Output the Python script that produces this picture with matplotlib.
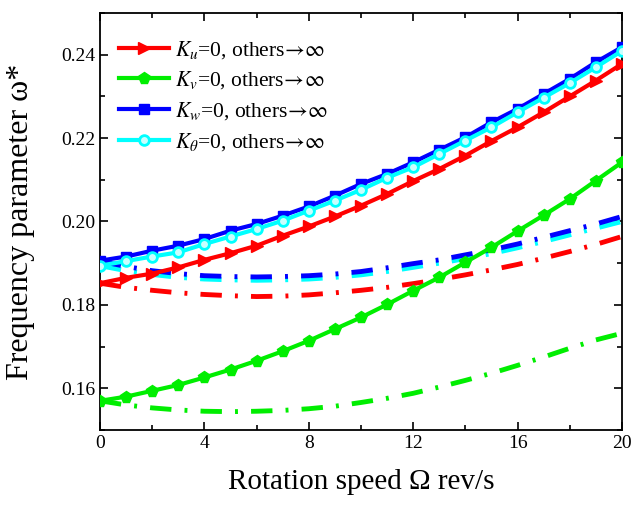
import matplotlib
matplotlib.use("Agg")
import matplotlib.pyplot as plt
from matplotlib.ticker import MultipleLocator

plt.rcParams['font.family'] = ['Liberation Serif', 'DejaVu Serif']
plt.rcParams['mathtext.fontset'] = 'stix'

omega = list(range(0, 21))

# solid curves (with markers)
ku_solid = [0.1852, 0.1865, 0.1875, 0.1890, 0.1908, 0.1924, 0.1942, 0.1966, 0.1988, 0.2012, 0.2038,
            0.2066, 0.2097, 0.2126, 0.2158, 0.2193, 0.2226, 0.2262, 0.2300, 0.2338, 0.2378]
kv_solid = [0.1570, 0.1580, 0.1594, 0.1608, 0.1626, 0.1645, 0.1666, 0.1689, 0.1714, 0.1742, 0.1770,
            0.1801, 0.1834, 0.1866, 0.1902, 0.1938, 0.1977, 0.2015, 0.2054, 0.2098, 0.2142]
kw_solid = [0.1906, 0.1916, 0.1930, 0.1942, 0.1958, 0.1978, 0.1994, 0.2014, 0.2036, 0.2062, 0.2090,
            0.2114, 0.2142, 0.2172, 0.2202, 0.2238, 0.2270, 0.2306, 0.2342, 0.2382, 0.2418]
kt_solid = [0.1894, 0.1905, 0.1916, 0.1926, 0.1946, 0.1964, 0.1982, 0.2002, 0.2026, 0.2050, 0.2076,
            0.2105, 0.2130, 0.2162, 0.2194, 0.2226, 0.2262, 0.2297, 0.2332, 0.2370, 0.2409]

# dash-dot curves
ku_dash = [0.1852, 0.1842, 0.1835, 0.1829, 0.1825, 0.1822, 0.1820, 0.1821, 0.1824, 0.1829, 0.1835,
           0.1842, 0.1851, 0.1861, 0.1872, 0.1884, 0.1897, 0.1912, 0.1928, 0.1945, 0.1964]
kv_dash = [0.1570, 0.1560, 0.1553, 0.1548, 0.1545, 0.1544, 0.1545, 0.1547, 0.1551, 0.1557, 0.1566,
           0.1576, 0.1588, 0.1603, 0.1619, 0.1636, 0.1655, 0.1675, 0.1696, 0.1716, 0.1732]
kw_dash = [0.1905, 0.1892, 0.1882, 0.1875, 0.1870, 0.1868, 0.1867, 0.1868, 0.1870, 0.1874, 0.1880,
           0.1889, 0.1899, 0.1908, 0.1920, 0.1932, 0.1946, 0.1962, 0.1978, 0.1994, 0.2012]
kt_dash = [0.1894, 0.1882, 0.1873, 0.1866, 0.1862, 0.1860, 0.1859, 0.1860, 0.1862, 0.1866, 0.1872,
           0.1880, 0.1890, 0.1900, 0.1911, 0.1923, 0.1937, 0.1952, 0.1968, 0.1984, 0.2000]

labels = [r'$K_u$=0, others$\!\rightarrow\!\infty$', r'$K_v$=0, others$\!\rightarrow\!\infty$',
          r'$K_w$=0, others$\!\rightarrow\!\infty$', r'$K_\theta$=0, others$\!\rightarrow\!\infty$']
colors = ['#ff0000', '#00ee00', '#0000ff', '#00ffff']

fig = plt.figure(figsize=(6.31, 5.05), dpi=100)
ax = fig.add_axes([0.1585, 0.1485, 0.8272, 0.8258])

lw = 3.0
dlw = 3.5
dash_pattern = (0, (4.4, 2.7, 0.6, 2.7))

# dash-dot lines first
for ys, c in zip([ku_dash, kv_dash, kt_dash, kw_dash], [colors[0], colors[1], colors[3], colors[2]]):
    ax.plot(omega, ys, color=c, lw=dlw, linestyle=dash_pattern, zorder=2)

ax.plot(omega, ku_solid, color=colors[0], lw=lw, marker='>', ms=8.5, label=labels[0], zorder=3)
ax.plot(omega, kv_solid, color=colors[1], lw=lw, marker='p', ms=8.5, label=labels[1], zorder=3)
ax.plot(omega, kt_solid, color=colors[3], lw=lw, marker='o', ms=7, mfc='#c8ffff', mec=colors[3],
        mew=2, label=labels[3], zorder=4)
ax.plot(omega, kw_solid, color=colors[2], lw=lw, marker='s', ms=6.5, label=labels[2], zorder=3)

handles, labs = ax.get_legend_handles_labels()
order = [0, 1, 3, 2]
ax.legend([handles[i] for i in order], [labs[i] for i in order], loc='upper left', frameon=False,
          fontsize=15.5, handlelength=2.3, handletextpad=0.3, labelspacing=0.42,
          bbox_to_anchor=(0.0, 0.985), borderaxespad=0.5)

ax.set_xlim(0, 20)
ax.set_ylim(0.15, 0.25)
ax.xaxis.set_major_locator(MultipleLocator(4))
ax.xaxis.set_minor_locator(MultipleLocator(2))
ax.yaxis.set_minor_locator(MultipleLocator(0.01))
ax.set_yticks([0.16, 0.18, 0.20, 0.22, 0.24])
ax.set_yticklabels(['0.16', '0.18', '0.20', '0.22', '0.24'])

ax.tick_params(which='both', direction='in', top=True, right=True, width=1.2, labelsize=14)
ax.tick_params(which='major', length=6)
ax.tick_params(which='minor', length=3.5)
for s in ax.spines.values():
    s.set_linewidth(1.3)

ax.set_xlabel('Rotation speed Ω rev/s', fontsize=21, labelpad=12)
ax.set_ylabel('Frequency parameter ω*', fontsize=23)
ax.yaxis.set_label_coords(-0.125, 0.5)

fig.savefig('out.png', dpi=100)
